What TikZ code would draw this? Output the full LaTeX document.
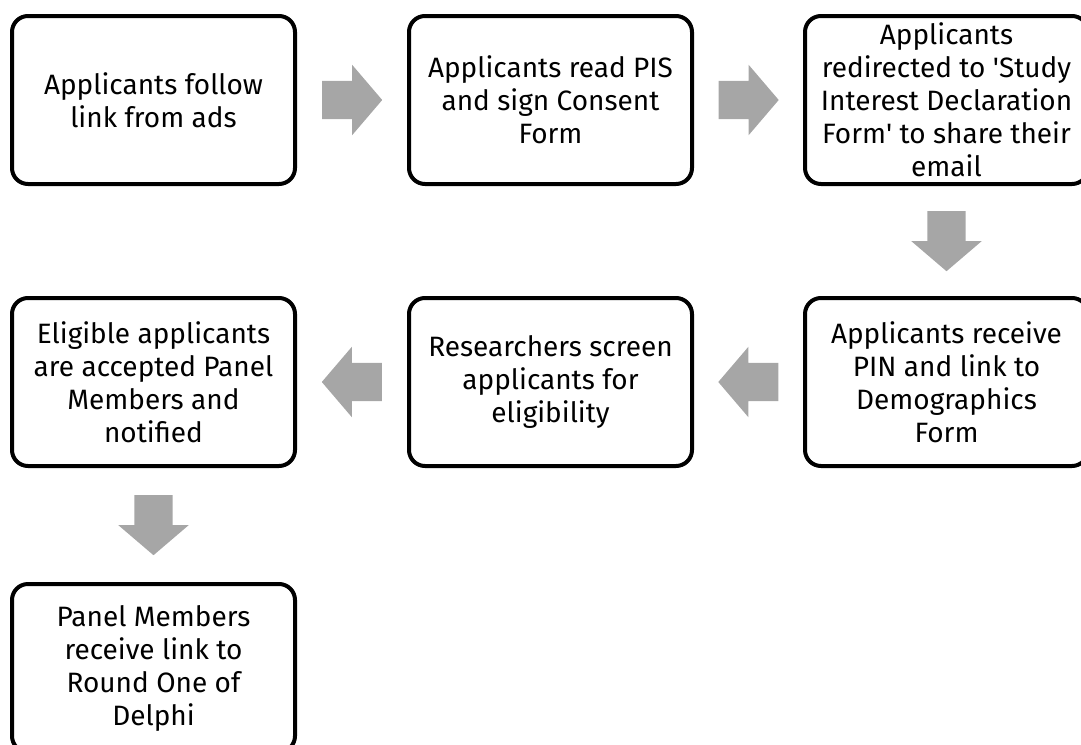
\documentclass[tikz,border=0pt]{standalone}
\usepackage{fontspec}
\setmainfont{Fira Sans}
\usetikzlibrary{calc,shapes.arrows}
\definecolor{arrowgray}{RGB}{166,166,166}

\begin{document}
\begin{tikzpicture}[x=1pt,y=-1pt,
  box/.style={draw,line width=4pt,rounded corners=16pt,minimum width=283pt,minimum height=168pt,
              inner sep=0pt,align=center,font=\fontsize{28}{33}\selectfont},
  flow/.style={single arrow,fill=arrowgray,draw=none,inner sep=0pt,text height=19pt,text depth=19pt,
               minimum height=60pt,single arrow head extend=16pt,single arrow tip angle=99,anchor=tail}]
  \useasboundingbox (0,0) rectangle (1081,744);
  \clip (0,0) rectangle (1081,744);

  \node[box] (ads) at (153.5,100) {Applicants follow\\link from ads};
  \node[box] (pis) at (550.5,100) {Applicants read PIS\\and sign Consent\\Form};
  \node[box] (sid) at (946.5,100) {Applicants\\redirected to \textquotesingle Study\\Interest Declaration\\Form\textquotesingle\ to share their\\email};
  \node[box] (pin) at (946.5,382) {Applicants receive\\PIN and link to\\Demographics\\Form};
  \node[box] (scr) at (550.5,382) {Researchers screen\\applicants for\\eligibility};
  \node[box] (acc) at (153.5,382) {Eligible applicants\\are accepted Panel\\Members and\\notified};
  \node[box] (rnd) at (153.5,668) {Panel Members\\receive link to\\Round One of\\Delphi};

  % tail sits 30pt back from the gap's middle
  \node[flow] (a1) at ($(ads.east)!0.5!(pis.west)!30pt!(ads.east)$) {};
  \node[flow] (a2) at ($(pis.east)!0.5!(sid.west)!30pt!(pis.east)$) {};
  \node[flow,rotate=-90] (a3) at ($(sid.south)!0.5!(pin.north)!30pt!(sid.south)$) {};
  \node[flow,rotate=180] (a4) at ($(pin.west)!0.5!(scr.east)!30pt!(pin.west)$) {};
  \node[flow,rotate=180] (a5) at ($(scr.west)!0.5!(acc.east)!30pt!(scr.west)$) {};
  \node[flow,rotate=-90] (a6) at ($(acc.south)!0.5!(rnd.north)!30pt!(acc.south)$) {};
\end{tikzpicture}
\end{document}
